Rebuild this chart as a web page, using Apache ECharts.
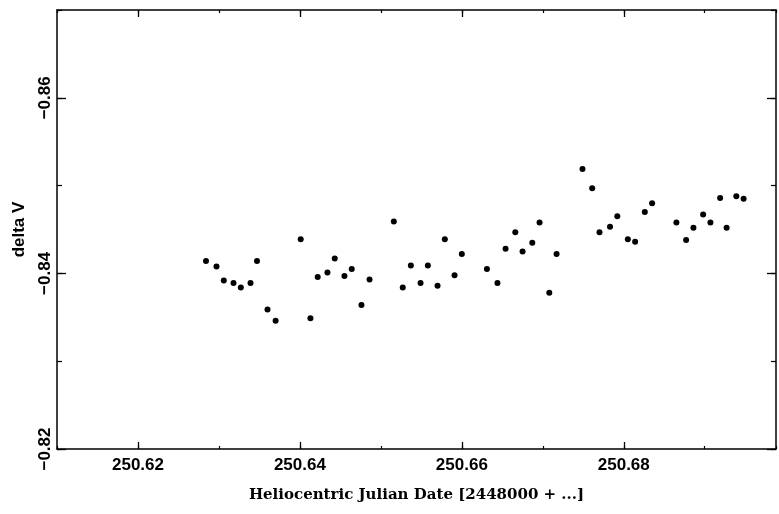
<!DOCTYPE html>
<html>
<head>
<meta charset="utf-8">
<script src="https://cdn.jsdelivr.net/npm/echarts@6/dist/echarts.min.js"></script>
<style>
  html, body { margin: 0; padding: 0; background: #fff; }
  #chart { width: 779px; height: 514px; }
</style>
</head>
<body>
<div id="chart"></div>
<script>
// Heliocentric Julian Date minus 2448000
const hjd = [
  250.6284, 250.6297, 250.6306, 250.6318, 250.6327, 250.6339, 250.6347, 250.6360, 250.6370,
  250.6401, 250.6413, 250.6422, 250.6434, 250.6443, 250.6455, 250.6464, 250.6476, 250.6486,
  250.6516, 250.6527, 250.6537, 250.6549, 250.6558, 250.6570, 250.6579, 250.6591, 250.6600,
  250.6631, 250.6644, 250.6654, 250.6666, 250.6675, 250.6687, 250.6696, 250.6708, 250.6717,
  250.6749, 250.6761, 250.6770, 250.6783, 250.6792, 250.6805, 250.6814, 250.6826, 250.6835,
  250.6865, 250.6877, 250.6886, 250.6898, 250.6907, 250.6919, 250.6927, 250.6939, 250.6948
];
const deltaV = [
  -0.8414, -0.8408, -0.8392, -0.8389, -0.8384, -0.8389, -0.8414, -0.8359, -0.8346,
  -0.8439, -0.8349, -0.8396, -0.8401, -0.8417, -0.8397, -0.8405, -0.8364, -0.8393,
  -0.8459, -0.8384, -0.8409, -0.8389, -0.8409, -0.8386, -0.8439, -0.8398, -0.8422,
  -0.8405, -0.8389, -0.8428, -0.8447, -0.8425, -0.8435, -0.8458, -0.8378, -0.8422,
  -0.8519, -0.8497, -0.8447, -0.8453, -0.8465, -0.8439, -0.8436, -0.8470, -0.8480,
  -0.8458, -0.8438, -0.8452, -0.8467, -0.8458, -0.8486, -0.8452, -0.8488, -0.8485
];
const xMajorTicks = [250.62, 250.64, 250.66, 250.68];
const yMajorTicks = [-0.86, -0.84, -0.82];

const xMin = 250.61, xMax = 250.6988, xStep = 0.01;
const yMin = -0.87, yMax = -0.82, yStep = 0.01;

const ink = '#000';
const tickFont = { color: ink, fontFamily: 'Liberation Sans', fontSize: 17, fontWeight: 'bold' };

function isEvenHundredth(v) {
  const h = v * 100;
  const r = Math.round(h);
  return Math.abs(h - r) < 1e-6 && r % 2 === 0;
}

function xAxisDef(pos, longTicks, withLabels) {
  return {
    type: 'value', position: pos, min: xMin, max: xMax, interval: xStep,
    name: withLabels ? 'Heliocentric Julian Date [2448000 + ...]' : '',
    nameLocation: 'middle', nameGap: 39,
    nameTextStyle: { color: ink, fontFamily: 'DejaVu Serif', fontSize: 15, fontWeight: 'bold' },
    axisLine: { show: !longTicks, onZero: false, lineStyle: { color: ink, width: 1.5 } },
    axisTick: longTicks
      ? { show: true, inside: true, length: 7, customValues: xMajorTicks, lineStyle: { color: ink, width: 1.3 } }
      : { show: true, inside: true, length: 3, lineStyle: { color: ink, width: 1.2 } },
    axisLabel: {
      show: withLabels, margin: 8, ...tickFont,
      formatter: v => isEvenHundredth(v) ? v.toFixed(2) : ''
    },
    splitLine: { show: false }
  };
}

function yAxisDef(pos, longTicks, withLabels) {
  return {
    type: 'value', position: pos, inverse: true, min: yMin, max: yMax, interval: yStep,
    name: withLabels ? 'delta V' : '',
    nameLocation: 'middle', nameGap: 29, nameRotate: 90,
    nameTextStyle: { color: ink, fontFamily: 'Liberation Sans', fontSize: 17, fontWeight: 'bold' },
    axisLine: { show: !longTicks, onZero: false, lineStyle: { color: ink, width: 1.5 } },
    axisTick: longTicks
      ? { show: true, inside: true, length: 9, customValues: yMajorTicks, lineStyle: { color: ink, width: 1.3 } }
      : { show: true, inside: true, length: 5, lineStyle: { color: ink, width: 1.2 } },
    axisLabel: {
      show: withLabels, margin: 3, rotate: 90, ...tickFont,
      formatter: v => isEvenHundredth(-v) ? '\u2212' + Math.abs(v).toFixed(2) : ''
    },
    splitLine: { show: false }
  };
}

const chart = echarts.init(document.getElementById('chart'), null, { renderer: 'canvas' });
chart.setOption({
  backgroundColor: '#fff',
  animation: false,
  grid: { left: 57, right: 2, top: 10, bottom: 65, containLabel: false },
  xAxis: [
    xAxisDef('bottom', false, true),
    xAxisDef('bottom', true, false),
    xAxisDef('top', false, false),
    xAxisDef('top', true, false)
  ],
  yAxis: [
    yAxisDef('left', false, true),
    yAxisDef('left', true, false),
    yAxisDef('right', false, false),
    yAxisDef('right', true, false)
  ],
  series: [{
    type: 'scatter',
    xAxisIndex: 0,
    yAxisIndex: 0,
    symbol: 'circle',
    symbolSize: 6,
    itemStyle: { color: ink, opacity: 1 },
    data: hjd.map((x, i) => [x, deltaV[i]])
  }]
});
</script>
</body>
</html>
